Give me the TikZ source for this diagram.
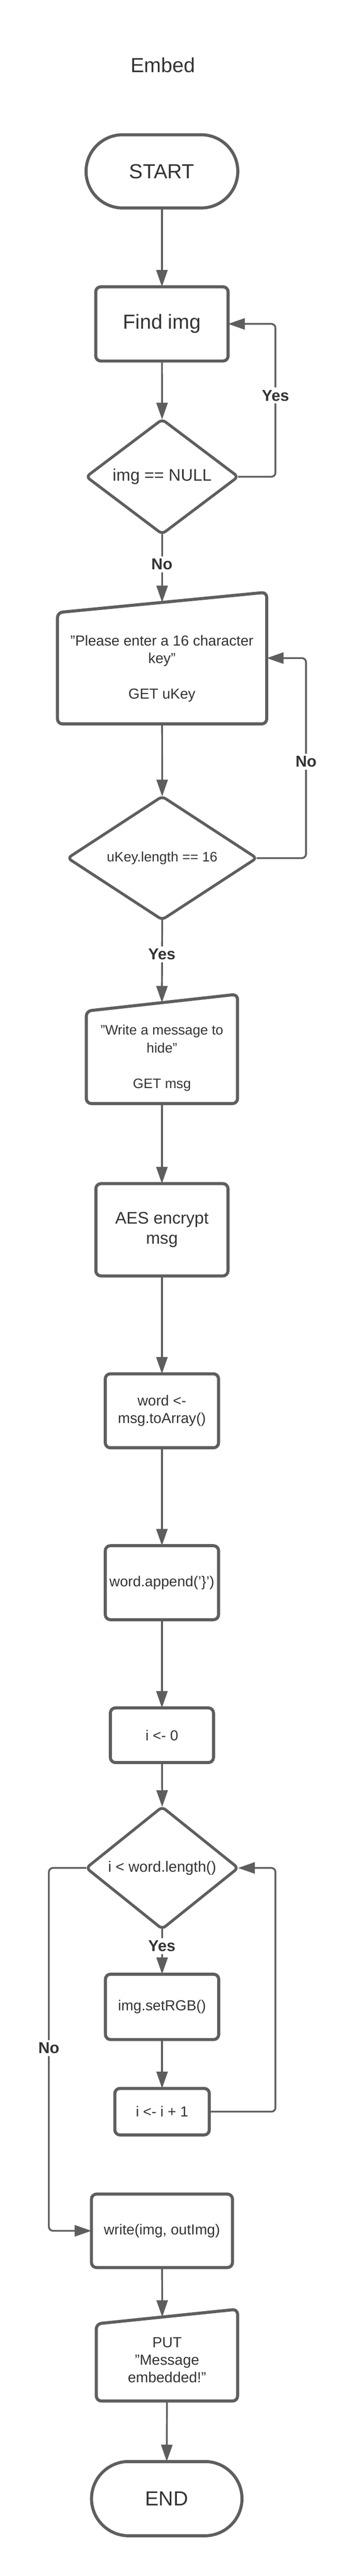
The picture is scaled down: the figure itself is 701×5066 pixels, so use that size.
\documentclass[tikz,border=0pt]{standalone}
\usepackage{fontspec}
\setmainfont{Liberation Sans}
\usetikzlibrary{shapes.geometric,shapes.misc,arrows.meta,calc}
\definecolor{ln}{HTML}{5E5E5E}
\definecolor{tx}{HTML}{333333}
\begin{document}
\begin{tikzpicture}[x=1pt,y=-1pt,
  every node/.style={text=tx, inner sep=0pt, outer sep=0pt},
  proc/.style={rectangle, rounded corners=10pt, draw=ln, line width=6pt, fill=white, align=center, font=\fontsize{28.5}{35}\selectfont},
  term/.style={rounded rectangle, draw=ln, line width=6pt, fill=white, align=center, font=\fontsize{40}{48}\selectfont},
  dec/.style={diamond, rounded corners=8pt, draw=ln, line width=5.5pt, fill=white, align=center},
  frame/.style={rectangle, draw=none},
  shapeln/.style={draw=ln, line width=6pt, rounded corners=10pt, line join=round, fill=white},
  conn/.style={draw=ln, line width=3.5pt, -{Triangle[length=33pt,width=22pt]}},
  loopc/.style={conn, rounded corners=8pt},
  lbl/.style={font=\bfseries\fontsize{31}{36}\selectfont, fill=white, inner sep=5pt},
  txt/.style={align=center}
]
\useasboundingbox (0,0) rectangle (701,5066);
\fill[white] (0,0) rectangle (701,5066);

% title
\node[font=\fontsize{40}{48}\selectfont] (title) at (320,128) {Embed};

% nodes
\node[term, minimum width=298, minimum height=144] (start) at (318,337) {START};
\node[proc, minimum width=260, minimum height=146, font=\fontsize{40}{48}\selectfont] (find) at (318,637) {Find img};
\node[dec, minimum width=298, minimum height=223, font=\fontsize{33}{39}\selectfont] (d1) at (318.5,937.5) {img == NULL};

% input 1
\node[frame, minimum width=411, minimum height=259] (in1) at (318.35,1294.2) {};
\draw[shapeln] (in1.south west) -- ($(in1.north west)+(0,40)$) -- (in1.north east) -- (in1.south east) -- cycle;
\node[txt, font=\fontsize{28.5}{35}\selectfont] (in1t) at (318,1315) {"Please enter a 16 character\\key"\\[35pt]GET uKey};
\coordinate (in1top) at ($(in1.north west)!0.5!(in1.north east)+(0,20)$);

\node[dec, minimum width=371, minimum height=225, font=\fontsize{27}{33}\selectfont] (d2) at (318.5,1687.5) {uKey.length == 16};

% input 2
\node[frame, minimum width=297, minimum height=215] (in2) at (318,2062.8) {};
\draw[shapeln] (in2.south west) -- ($(in2.north west)+(0,33)$) -- (in2.north east) -- (in2.south east) -- cycle;
\node[txt, font=\fontsize{27}{35}\selectfont] (in2t) at (318,2081) {"Write a message to\\hide"\\[35pt]GET msg};
\coordinate (in2top) at ($(in2.north west)!0.5!(in2.north east)+(0,16.5)$);

\node[proc, minimum width=259.5, minimum height=181.5, font=\fontsize{33}{39.5}\selectfont] (aes) at (318,2418.5) {AES encrypt\\msg};
\node[proc, minimum width=222.5, minimum height=145.5] (word) at (318,2774.5) {word <-\\msg.toArray()};
\node[proc, minimum width=222.5, minimum height=145.5] (app) at (318,3112.5) {word.append('\}')};
\node[proc, minimum width=202.5, minimum height=107.5] (i0) at (318,3412.5) {i <- 0};
\node[dec, minimum width=298, minimum height=221, font=\fontsize{29.5}{35}\selectfont] (d3) at (318.5,3673.5) {i < word.length()};
\node[proc, minimum width=222.5, minimum height=128.5] (rgb) at (318.3,3946.7) {img.setRGB()};
\node[proc, minimum width=185.5, minimum height=91.5] (inc) at (318.3,4152.8) {i <- i + 1};
\node[proc, minimum width=277, minimum height=144.5] (write) at (318.1,4387.1) {write(img, outImg)};

% output PUT
\node[frame, minimum width=277.5, minimum height=180.5] (put) at (327.9,4631.6) {};
\draw[shapeln] (put.south west) -- ($(put.north west)+(0,28.7)$) -- (put.north east) -- (put.south east) -- cycle;
\node[txt, font=\fontsize{28.8}{34.5}\selectfont] (putt) at (328,4641.5) {PUT\\"Message\\embedded!"};
\coordinate (puttop) at ($(put.north west)!0.4664!(put.north east)+(0,15.3)$);

\node[term, minimum width=295.5, minimum height=146] (end) at (327.5,4913.8) {END};

% coordinates for loops
\coordinate (yesA) at (541,637);
\coordinate (noA) at (601,1294.2);
\coordinate (incA) at (541,3673.5);
\coordinate (noB) at (96,3673.5);

% connectors
\draw[conn] (start) -- (find);
\draw[conn] (find) -- (d1);
\draw[loopc] (d1.east) -| (yesA) -- (find.east);
\draw[conn] (d1.south) -- (in1top);
\draw[conn] (in1.south) -- (d2.north);
\draw[loopc] (d2.east) -| (noA) -- (in1.east);
\draw[conn] (d2.south) -- (in2top);
\draw[conn] (in2.south) -- (aes.north);
\draw[conn] (aes) -- (word);
\draw[conn] (word) -- (app);
\draw[conn] (app) -- (i0);
\draw[conn] (i0) -- (d3.north);
\draw[conn] (d3.south) -- (rgb.north);
\draw[conn] (rgb) -- (inc);
\draw[loopc] (inc.east) -| (incA) -- (d3.east);
\draw[loopc] (d3.west) -- (noB) |- (write.west);
\draw[conn] ([xshift=0.2pt]write.south) -- (puttop);
\draw[conn] (put.south) -- (end.north);

% labels
\node[lbl] (lyes1) at (541,778) {Yes};
\node[lbl] (lno1) at (318,1110) {No};
\node[lbl] (lno2) at (601,1498) {No};
\node[lbl] (lyes2) at (318,1877) {Yes};
\node[lbl] (lyes3) at (318,3827) {Yes};
\node[lbl] (lno3) at (96,4028) {No};
\end{tikzpicture}
\end{document}
